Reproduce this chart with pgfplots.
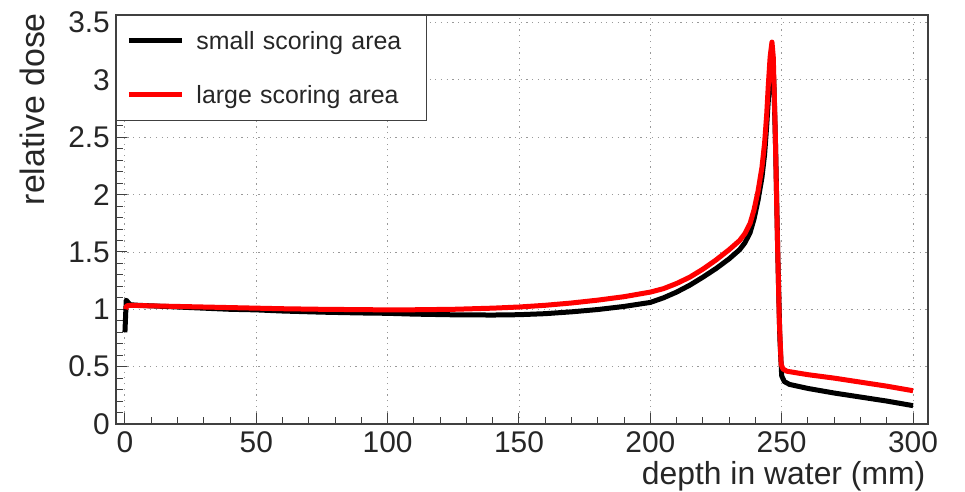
\documentclass[border=0pt]{standalone}
\usepackage{fontspec}
\setmainfont{Liberation Sans}
\usepackage{pgfplots}
\pgfplotsset{compat=1.18}

% depth-dose curves: small and large scoring area
\pgfplotstableread{
x      y
0.0    0.80
0.5    1.08
1.2    1.06
2      1.04
5      1.035
10     1.03
20     1.02
30     1.01
40     1.00
50     0.995
60     0.985
75     0.975
90     0.968
100    0.965
110    0.958
125    0.952
140    0.950
150    0.953
160    0.962
170    0.978
180    0.998
190    1.025
200    1.06
205    1.10
210    1.15
215    1.21
220    1.28
225    1.355
230    1.44
234    1.52
236    1.58
238    1.67
239.5  1.79
241    1.95
242.5  2.15
243.5  2.35
244.3  2.60
245.0  2.85
245.7  3.05
246.4  3.15
247.0  3.00
247.7  2.40
248.5  1.50
249.3  0.75
250.0  0.42
251    0.37
253    0.345
260    0.31
270    0.27
280    0.235
290    0.20
300    0.16
}\smallarea

\pgfplotstableread{
x      y
0.3    1.00
0.6    1.03
2      1.035
10     1.03
20     1.025
30     1.02
40     1.015
50     1.01
60     1.005
75     1.00
90     0.997
100    0.995
110    0.996
125    1.00
140    1.01
150    1.02
160    1.035
170    1.055
180    1.08
190    1.11
200    1.15
205    1.18
210    1.225
215    1.28
220    1.35
225    1.43
230    1.52
234    1.60
236    1.66
238    1.75
239.5  1.87
241    2.03
242.5  2.24
243.5  2.45
244.3  2.70
244.9  2.95
245.6  3.20
246.3  3.33
246.8  3.20
247.5  2.60
248.3  1.70
249.1  0.90
249.8  0.52
250.5  0.48
252    0.46
260    0.43
270    0.40
280    0.365
290    0.33
300    0.29
}\largearea

\begin{document}
\begin{tikzpicture}
\begin{axis}[
  scale only axis,
  width=812bp, height=409bp,
  xmin=-3.4, xmax=305.7,
  ymin=0, ymax=3.566,
  xtick={0,50,...,300},
  ytick={0,0.5,...,3.5},
  minor x tick num=4, minor y tick num=4,
  tick align=inside,
  xtick pos=left, ytick pos=left,
  major tick length=11bp, minor tick length=7bp,
  every tick/.style={black!75, line width=1bp},
  grid=major,
  major grid style={gray!80, line width=0.9bp, dash pattern=on 1.2bp off 4.5bp},
  axis line style={black!75, line width=1.3bp},
  /pgf/number format/assume math mode=true,
  ticklabel style={font=\fontsize{30}{36}\selectfont, text=black!85},
  xticklabel style={anchor=base, inner sep=0pt, yshift=-28bp},
  yticklabel style={anchor=east, inner sep=0pt, xshift=-6bp},
  xlabel={depth in water (mm)},
  ylabel={relative dose},
  xlabel style={at={(axis description cs:0.997,-0.149)}, anchor=base east,
                inner sep=0pt, font=\fontsize{32}{38}\selectfont, text=black!85},
  ylabel style={at={(axis description cs:-0.0874,1.005)}, anchor=south east,
                inner sep=0pt, font=\fontsize{34}{40}\selectfont, text=black!85},
  legend style={at={(axis description cs:0,1)}, anchor=north west,
                draw=black!75, line width=1bp, fill=white,
                inner xsep=10bp, inner ysep=5.5bp,
                row sep=14bp, column sep=12bp,
                font=\fontsize{25}{30}\selectfont,
                nodes={text width=220bp, align=left, minimum height=40bp,
                       inner sep=0pt, text=black!85}},
  legend cell align=left,
  legend image code/.code={\draw[#1, line width=5bp] (0bp,0bp) -- (53bp,0bp);},
]
\addplot[black, line width=5bp, line join=round] table[x=x, y=y] {\smallarea};
\addlegendentry{small scoring area}
\addplot[red, line width=5bp, line join=round] table[x=x, y=y] {\largearea};
\addlegendentry{large scoring area}
\end{axis}
\pgfresetboundingbox
\path[use as bounding box] ([shift={(-116bp,-68bp)}]current axis.south west)
  rectangle ([shift={(37bp,15bp)}]current axis.north east);
\end{tikzpicture}
\end{document}
